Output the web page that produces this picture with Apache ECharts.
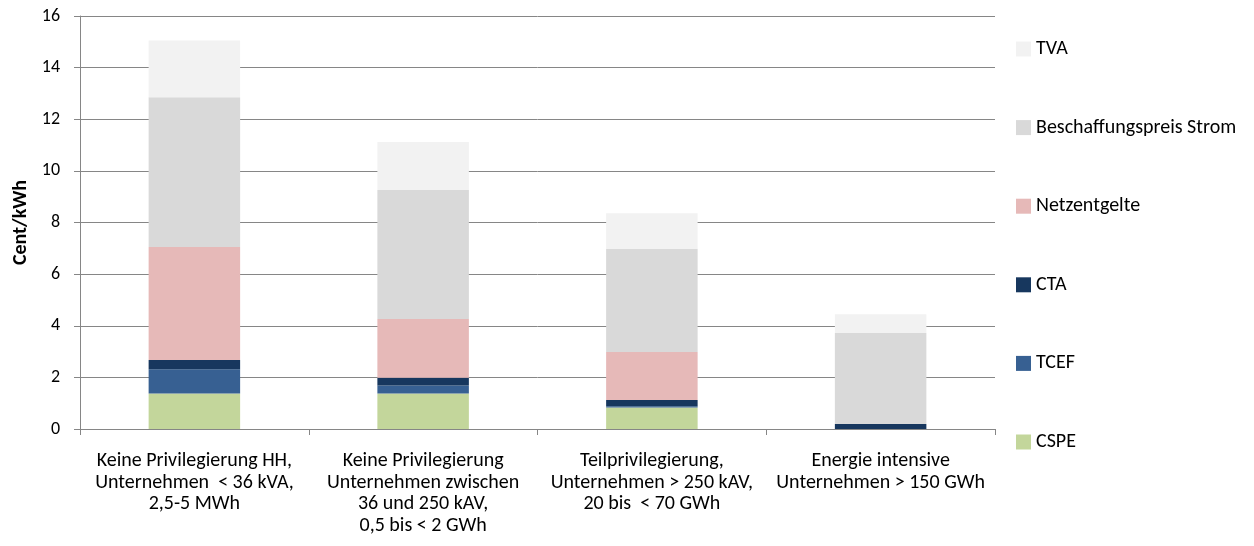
<!DOCTYPE html>
<html><head><meta charset="utf-8">
<script src="https://cdn.jsdelivr.net/npm/echarts@6/dist/echarts.min.js"></script>
<style>html,body{margin:0;padding:0;background:#fff}#c{width:1254px;height:546px}</style>
</head><body><div id="c"></div>
<script>
const categories = [
  'Keine Privilegierung HH,\nUnternehmen  < 36 kVA,\n2,5-5 MWh',
  'Keine Privilegierung\nUnternehmen zwischen\n36 und 250 kAV,\n0,5 bis < 2 GWh',
  'Teilprivilegierung,\nUnternehmen > 250 kAV,\n20 bis  < 70 GWh',
  'Energie intensive\nUnternehmen > 150 GWh'
];
const CSPE = [1.38, 1.38, 0.83, 0];
const TCEF = [0.93, 0.31, 0.05, 0];
const CTA = [0.36, 0.30, 0.24, 0.19];
const Netzentgelte = [4.38, 2.27, 1.86, 0];
const Beschaffungspreis = [5.80, 5.00, 4.00, 3.53];
const TVA = [2.20, 1.86, 1.38, 0.73];
const yTicks = [0, 2, 4, 6, 8, 10, 12, 14, 16];

const FONT = 'Carlito, Lato, "Liberation Sans", sans-serif';
const seriesDefs = [
  ['CSPE', CSPE, '#c3d69b'],
  ['TCEF', TCEF, '#376092'],
  ['CTA', CTA, '#17375e'],
  ['Netzentgelte', Netzentgelte, '#e6b9b8'],
  ['Beschaffungspreis Strom', Beschaffungspreis, '#d9d9d9'],
  ['TVA', TVA, '#f2f2f2']
];
const chart = echarts.init(document.getElementById('c'), null, {renderer: 'canvas'});
chart.setOption({
  animation: false,
  textStyle: {fontFamily: FONT},
  grid: {left: 80, right: 259, top: 16, bottom: 117},
  legend: {
    orient: 'vertical', left: 1011, top: 34,
    itemWidth: 15, itemHeight: 15, itemGap: 58.6,
    icon: 'rect',
    textStyle: {fontFamily: FONT, fontSize: 20, color: '#000'},
    data: seriesDefs.map(s => s[0]).reverse()
  },
  xAxis: {
    type: 'category', data: categories,
    axisLine: {lineStyle: {color: '#868686'}},
    axisTick: {show: true, length: 6, lineStyle: {color: '#868686'}},
    axisLabel: {fontFamily: FONT, fontSize: 20, color: '#000', lineHeight: 21.7, margin: 21, interval: 0}
  },
  yAxis: {
    type: 'value', min: yTicks[0], max: yTicks[yTicks.length - 1], interval: 2,
    name: 'Cent/kWh', nameLocation: 'middle', nameGap: 45, nameRotate: 90,
    nameTextStyle: {fontFamily: FONT, fontSize: 20, fontWeight: 'bold', color: '#000'},
    axisLine: {show: true, lineStyle: {color: '#868686'}},
    axisTick: {show: true, length: 6, lineStyle: {color: '#868686'}},
    axisLabel: {fontFamily: FONT, fontSize: 18, color: '#000', margin: 20},
    splitLine: {lineStyle: {color: '#868686'}}
  },
  series: seriesDefs.map(s => ({
    name: s[0], type: 'bar', stack: 'a', data: s[1], barWidth: '40%',
    itemStyle: {color: s[2]}
  }))
});
</script></body></html>
